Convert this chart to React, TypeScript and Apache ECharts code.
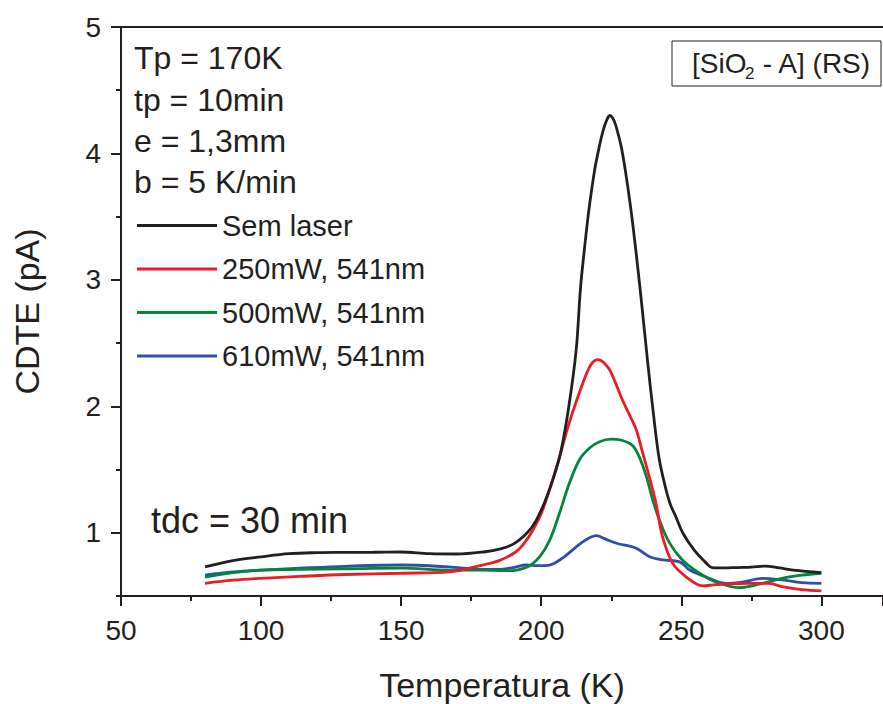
import React, { useEffect, useRef } from "react";
import * as echarts from "echarts";

const seriesNames = ["Sem laser", "250mW, 541nm", "500mW, 541nm", "610mW, 541nm"];
const seriesColors = ["#231f20", "#ed1c24", "#00873c", "#3050a8"];

const semLaser: [number, number][] = [
  [80, 0.73], [90, 0.78], [100, 0.81], [110, 0.835], [120, 0.843], [130, 0.845],
  [140, 0.846], [150, 0.848], [160, 0.835], [170, 0.832], [180, 0.85], [185, 0.87],
  [190, 0.91], [195, 1.0], [198, 1.09], [201, 1.23], [204, 1.41], [207, 1.64],
  [210, 2.02], [212.5, 2.45], [214, 2.93], [215.5, 3.26], [217, 3.55], [219, 3.86],
  [220.5, 4.03], [221.5, 4.13], [222.5, 4.21], [223.5, 4.27], [224.5, 4.3], [225.5, 4.28],
  [226.5, 4.23], [227.5, 4.15], [228.6, 4.05], [230, 3.87],
  [232, 3.56], [234, 3.19], [236, 2.78], [238, 2.35], [240, 1.95], [242, 1.6],
  [244, 1.39], [246, 1.23], [248, 1.13], [250.5, 1.0], [254.7, 0.86], [258.9, 0.76],
  [261, 0.725], [265, 0.722], [270, 0.725], [275, 0.728], [280, 0.737], [285, 0.722],
  [290, 0.705], [300, 0.685],
];

const mw250: [number, number][] = [
  [80, 0.6], [90, 0.625], [100, 0.64], [113.8, 0.655], [130, 0.67], [150, 0.68],
  [167, 0.69], [179, 0.745], [185, 0.78], [191, 0.85], [194, 0.92], [197, 1.02],
  [200.5, 1.18], [205.5, 1.52], [210, 1.87], [214.8, 2.18], [217, 2.3], [218.5, 2.35],
  [220, 2.37], [221.5, 2.36], [223, 2.33], [224.4, 2.29], [227, 2.16], [229, 2.05],
  [232, 1.91], [234, 1.81], [236, 1.65],
  [238.6, 1.44], [241, 1.23], [243.3, 0.97], [246.9, 0.76], [251.8, 0.65], [257.6, 0.58],
  [262.5, 0.59], [274.3, 0.6], [281.4, 0.6], [286, 0.574], [293, 0.55], [300, 0.54],
];

const mw500: [number, number][] = [
  [80, 0.65], [90, 0.685], [100, 0.705], [114, 0.71], [130, 0.715], [150, 0.72],
  [167, 0.705], [179, 0.705], [188, 0.7], [195, 0.73], [199.4, 0.81], [203, 0.94],
  [206.6, 1.16], [210, 1.39], [213.7, 1.58], [217.3, 1.67], [220.8, 1.72], [225, 1.74],
  [229, 1.73], [232.6, 1.69], [235, 1.6], [237.6, 1.44], [239.8, 1.26], [242.2, 1.1],
  [245.8, 0.92], [250.4, 0.785], [256.5, 0.68], [262.5, 0.61], [270.7, 0.566],
  [279, 0.6], [286, 0.64], [293, 0.665], [300, 0.68],
];

const mw610: [number, number][] = [
  [80, 0.665], [90, 0.69], [100, 0.705], [114, 0.72], [130, 0.735], [150, 0.745],
  [167, 0.73], [179, 0.71], [185, 0.71], [190, 0.725], [194.8, 0.745], [199, 0.74],
  [203, 0.745], [207.6, 0.8], [212.6, 0.89], [216, 0.945], [219.7, 0.977], [223, 0.95],
  [226.9, 0.917], [234, 0.877], [238.7, 0.81], [243.4, 0.785], [249.4, 0.77],
  [253, 0.705], [260, 0.64], [266, 0.6], [271.8, 0.61], [279, 0.64], [286, 0.627],
  [293, 0.605], [300, 0.6],
];

const allSeries = [semLaser, mw250, mw500, mw610];

const xMin = 50;
const xMax = 322;
const yMin = 0.5;
const yMax = 5;
const yMajorTicks = [1, 2, 3, 4, 5];
const yMinorTicks = [0.5, 1.5, 2.5, 3.5, 4.5];

const infoLines = ["Tp = 170K", "tp = 10min", "e = 1,3mm", "b = 5 K/min"];
const tdcLabel = "tdc = 30 min";

const ink = "#231f20";
const font = "'Liberation Sans', Arial, Helvetica, sans-serif";

export default function App() {
  const ref = useRef<HTMLDivElement>(null);
  useEffect(() => {
    if (!ref.current) return;
    const chart = echarts.init(ref.current, undefined, { renderer: "svg" });
    const infoY = [59, 100.5, 142, 183];
    const option: any = {
      animation: false,
      backgroundColor: "#ffffff",
      textStyle: { fontFamily: font, color: ink },
      grid: { left: 121, top: 27, right: 0, bottom: 108, containLabel: false, outerBoundsMode: "none" },
      legend: {
        orient: "vertical",
        left: 137,
        top: 211,
        padding: 0,
        itemGap: 14.5,
        itemWidth: 80,
        itemHeight: 3,
        icon: "rect",
        data: seriesNames,
        textStyle: { fontSize: 29, color: ink, fontFamily: font },
      },
      xAxis: [
        {
          type: "value",
          min: xMin,
          max: xMax,
          interval: 50,
          name: "Temperatura (K)",
          nameLocation: "middle",
          nameGap: 72,
          nameTextStyle: { fontSize: 34, color: ink, fontFamily: font },
          axisLine: { show: true, lineStyle: { color: ink, width: 2 } },
          axisTick: { show: true, inside: false, length: 10, lineStyle: { color: ink, width: 2 } },
          minorTick: { show: true, splitNumber: 2, length: 5, lineStyle: { color: ink, width: 2 } },
          axisLabel: {
            fontSize: 28,
            color: ink,
            fontFamily: font,
            margin: 20,
            showMaxLabel: false,
            formatter: (v: number) => (v % 50 === 0 ? String(v) : ""),
          },
          splitLine: { show: false },
        },
        {
          type: "value",
          position: "top",
          min: xMin,
          max: xMax,
          interval: 50,
          axisLine: { show: true, lineStyle: { color: ink, width: 2 } },
          axisTick: { show: false },
          axisLabel: { show: false },
          splitLine: { show: false },
        },
      ],
      yAxis: [
        {
          type: "value",
          min: yMin,
          max: yMax,
          name: "CDTE (pA)",
          nameLocation: "middle",
          nameGap: 77,
          nameTextStyle: { fontSize: 34, color: ink, fontFamily: font },
          axisLine: { show: true, lineStyle: { color: ink, width: 2 } },
          axisTick: { show: true, length: 10, customValues: yMajorTicks, lineStyle: { color: ink, width: 2 } },
          axisLabel: { fontSize: 28, color: ink, fontFamily: font, margin: 20, customValues: yMajorTicks },
          splitLine: { show: false },
        },
        {
          type: "value",
          position: "left",
          min: yMin,
          max: yMax,
          axisLine: { show: false },
          axisTick: { show: true, length: 5, customValues: yMinorTicks, lineStyle: { color: ink, width: 2 } },
          axisLabel: { show: false, customValues: yMinorTicks },
          splitLine: { show: false },
        },
      ],
      series: allSeries.map((d, i) => ({
        name: seriesNames[i],
        type: "line",
        data: d,
        xAxisIndex: 0,
        yAxisIndex: 0,
        showSymbol: false,
        symbol: "none",
        smooth: 0.35,
        color: seriesColors[i],
        lineStyle: { color: seriesColors[i], width: 2.8 },
        z: 10 - i,
      })),
      graphic: [
        ...infoLines.map((t, i) => ({
          type: "text",
          left: 134,
          top: infoY[i] - 17,
          style: { text: t, fontSize: 32, fontFamily: font, fill: ink },
        })),
        {
          type: "text",
          left: 151,
          top: 521 - 19,
          style: { text: tdcLabel, fontSize: 36, fontFamily: font, fill: ink },
        },
        {
          type: "rect",
          shape: { x: 672, y: 41, width: 209, height: 45 },
          style: { fill: "none", stroke: ink, lineWidth: 1 },
        },
        {
          type: "text",
          x: 692,
          y: 63,
          style: { text: "[SiO", fontSize: 28, fontFamily: font, fill: ink, verticalAlign: "middle" },
        },
        {
          type: "text",
          x: 745,
          y: 73,
          style: { text: "2", fontSize: 17, fontFamily: font, fill: ink, verticalAlign: "middle" },
        },
        {
          type: "text",
          x: 755,
          y: 63,
          style: { text: " - A] (RS)", fontSize: 28, fontFamily: font, fill: ink, verticalAlign: "middle" },
        },
      ],
    };
    chart.setOption(option);
    return () => chart.dispose();
  }, []);
  return (
    <div
      ref={ref}
      style={{ position: "absolute", left: 0, top: 0, width: 883, height: 704 }}
    />
  );
}
